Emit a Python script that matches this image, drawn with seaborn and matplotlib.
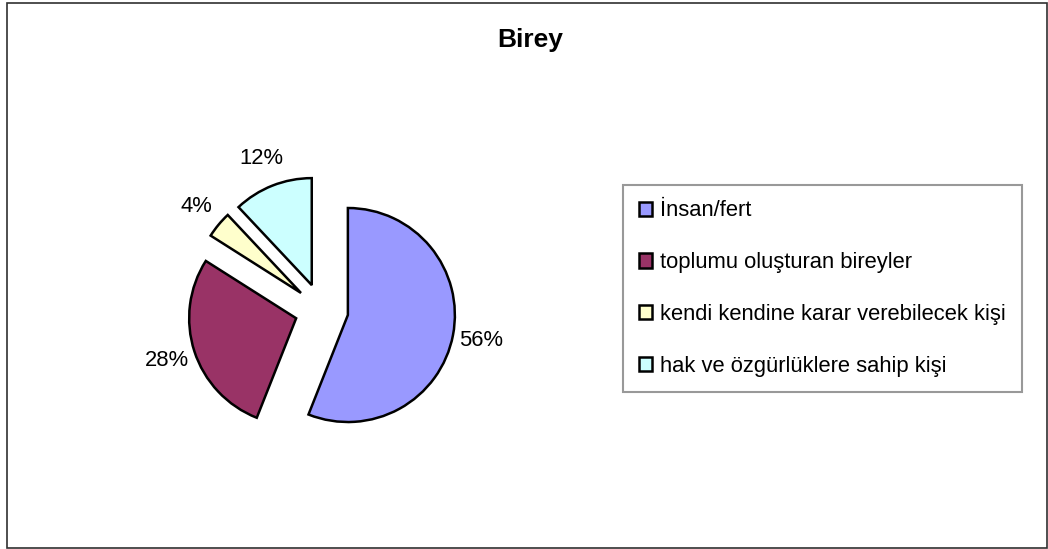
import matplotlib
matplotlib.use("Agg")
import matplotlib.pyplot as plt
import seaborn as sns
from matplotlib.patches import Rectangle

categories = ["İnsan/fert", "toplumu oluşturan bireyler",
              "kendi kendine karar verebilecek kişi", "hak ve özgürlüklere sahip kişi"]
values = [56, 28, 4, 12]
colors = ["#9999FF", "#993366", "#FFFFCC", "#CCFFFF"]
title = "Birey"

sns.set_theme(style="white")
plt.rcParams['font.family'] = ['Liberation Sans', 'DejaVu Sans']
plt.rcParams['text.color'] = 'black'

W, H = 1048, 549
fig = plt.figure(figsize=(W / 100, H / 100), dpi=100)
fig.patch.set_facecolor("white")

cx, cy, r = 321.6, 310.0, 107.0
half = 200.0
ax = fig.add_axes([(cx - half) / W, (H - cy - half) / H, 2 * half / W, 2 * half / H])
lim = half / r
wedges, texts, autotexts = ax.pie(
    values, colors=colors, startangle=90, counterclock=False,
    explode=[0.25] * len(values), radius=1,
    autopct='%1.0f%%', pctdistance=1.27,
    wedgeprops=dict(edgecolor="black", linewidth=1.8, joinstyle="miter"),
    textprops=dict(fontsize=15.8, color="black"))
ax.set_xlim(-lim, lim)
ax.set_ylim(-lim, lim)
ax.set_aspect("equal")
ax.axis("off")

fig.text(530 / W, 1 - 40 / H, title, ha="center", va="center",
         fontsize=19, fontweight="bold", color="black")

leg = fig.legend(wedges, categories, loc="center left",
                 bbox_to_anchor=(623 / W, 1 - 288.5 / H),
                 fontsize=15.8, frameon=True, fancybox=False,
                 handlelength=0.62, handleheight=0.62, handletextpad=0.35,
                 labelspacing=1.4, borderpad=0.72, borderaxespad=0)
leg.get_frame().set_edgecolor("#808080")
leg.get_frame().set_linewidth(1.5)
for t in leg.get_texts():
    t.set_color("black")

fig.patches.append(Rectangle((7 / W, 1.5 / H), 1040 / W, 545 / H,
                             transform=fig.transFigure, fill=False,
                             edgecolor="#303030", linewidth=1.2))

fig.savefig("out.png", dpi=100, facecolor="white")
